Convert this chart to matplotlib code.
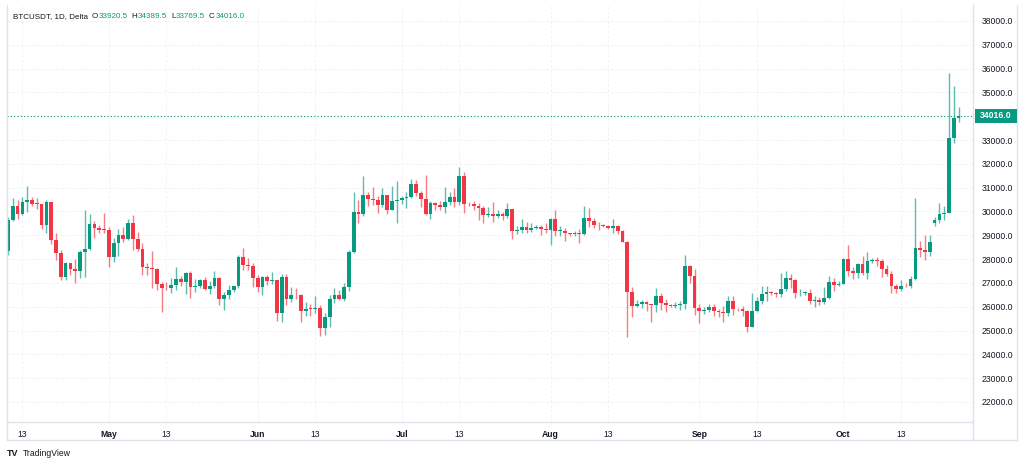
# BTCUSDT daily candles, TradingView style
import numpy as np
import pandas as pd
import matplotlib
matplotlib.use("Agg")
import matplotlib.pyplot as plt
from matplotlib.lines import Line2D
from matplotlib.patches import Rectangle
from matplotlib.ticker import FormatStrFormatter, MultipleLocator

plt.rcParams['font.family'] = ['Liberation Sans', 'DejaVu Sans']

# data (10 Apr - 25 Oct 2023)
symbol_text = "BTCUSDT, 1D, Delta"
start_date = "2023-04-10"

opens = [
    # Apr
    28323, 29653, 30235, 29880, 30390, 30485, 30318, 30316, 29445, 30397, 28822,
    28246, 27262, 27817, 27590, 27514, 28300, 28420, 29472, 29311, 29234,
    # May
    29233, 28068, 28669, 29027, 28838, 29506, 28848, 28430, 27668, 27628, 27599,
    26969, 26796, 26775, 26917, 27162, 27033, 27405, 26821, 26890, 27118, 26754,
    26851, 27225, 26334, 26476, 26719, 26868, 28085, 27745, 27702,
    # Jun
    27219, 26819, 27249, 27069, 27115, 25728, 27230, 26339, 26498, 26477, 25841,
    25925, 25906, 25929, 25124, 25576, 26328, 26511, 26338, 26845, 28308, 29994,
    29890, 30688, 30528, 30462, 30267, 30692, 30077, 30446,
    # Jul
    30472, 30585, 30617, 31156, 30767, 30505, 29895, 30346, 30292, 30171, 30414,
    30620, 30391, 31476, 30334, 30297, 30249, 30145, 29856, 29913, 29800, 29909,
    29801, 30090, 29177, 29228, 29353, 29223, 29315, 29357, 29278,
    # Aug
    29230, 29705, 29186, 29193, 29113, 29072, 29088, 29057, 29708, 29581, 29452,
    29425, 29402, 29290, 29409, 29170, 28701, 26623, 26050, 26100, 26189, 26125,
    26052, 26432, 26164, 26055, 26010, 26089, 26106, 27727, 27299,
    # Sep
    25940, 25800, 25868, 25970, 25813, 25780, 25753, 26240, 25905, 25895, 25832,
    25163, 25840, 26228, 26539, 26608, 26569, 26527, 26763, 27210, 27132, 26568,
    26580, 26580, 26256, 26298, 26217, 26352, 27021, 26907,
    # Oct
    26962, 27993, 27495, 27427, 27778, 27410, 27931, 27956, 27917, 27590, 27391,
    26875, 26756, 26862, 26852, 27154, 28480, 28380, 28300, 29500, 29640, 29890,
    29950, 33070, 33920.5,
]
highs = [
    29770, 30550, 30485, 30595, 31050, 30620, 30550, 30320, 30485, 30410, 29100,
    28375, 27885, 27820, 28000, 28400, 30060, 29890, 29600, 29450, 29950,
    29337, 28880, 29266, 29360, 29677, 29840, 29138, 28664, 27818, 28322, 27638,
    27054, 27055, 27200, 27663, 27279, 27466, 27485, 27183, 27155, 27265, 27087,
    27495, 27235, 26632, 26932, 26890, 28193, 28447, 28045, 27834,
    27350, 27300, 27330, 27455, 27130, 27355, 27395, 26809, 26785, 26530, 26210,
    26100, 26434, 26077, 25750, 26480, 26770, 26700, 26980, 28400, 30800, 30500,
    31470, 30800, 31046, 30662, 31000, 30705, 31060, 31300,
    30660, 30800, 31380, 31325, 30880, 31550, 30450, 30385, 30440, 31045, 30800,
    30980, 31850, 31640, 30390, 30450, 30340, 30245, 30190, 30418, 30050, 29995,
    30350, 30100, 29380, 29690, 29570, 29530, 29413, 29450, 29530,
    29738, 30047, 29410, 29312, 29114, 29175, 29245, 30244, 30130, 29740, 29570,
    29475, 29445, 29670, 29440, 29239, 28780, 26840, 26286, 26296, 26261, 26135,
    26800, 26570, 26315, 26125, 26185, 26237, 28170, 27760, 27580,
    26125, 25970, 26125, 26100, 25890, 26040, 26442, 26432, 25945, 26018, 25880,
    26560, 26400, 26860, 26890, 26670, 26620, 27410, 27490, 27387, 27160, 26745,
    26640, 26738, 26430, 26388, 26837, 27308, 27225, 27090,
    28065, 28590, 27675, 27837, 28125, 28295, 28029, 28100, 27985, 27740, 27480,
    26944, 27130, 26990, 27290, 30550, 28760, 29010, 29000, 29780, 30370, 30240,
    35830, 35280, 34389.5,
]
lows = [
    28170, 29590, 29700, 29860, 29980, 30230, 30120, 29270, 29100, 28650, 27980,
    27140, 27130, 27350, 26990, 27200, 27250, 28380, 28880, 29080, 29100,
    27666, 27870, 28110, 28700, 28800, 28400, 28330, 27336, 27353, 26790, 26702,
    25790, 26692, 26560, 26717, 26863, 26550, 26350, 26630, 26800, 26700, 26538,
    26800, 26080, 25871, 26330, 26600, 26770, 27524, 27560, 26815,
    26605, 26505, 26920, 26950, 25388, 25350, 26087, 26210, 26314, 25370, 25600,
    25630, 25720, 24780, 24800, 25160, 26170, 26280, 26250, 26660, 28260, 29525,
    29800, 30250, 30270, 29920, 30200, 29900, 30050, 29500,
    30320, 30150, 30560, 30630, 30200, 29850, 29700, 30050, 30072, 29950, 30270,
    30200, 30260, 29940, 30250, 30080, 29660, 29500, 29760, 29570, 29720, 29640,
    29730, 28862, 29040, 29100, 29080, 29118, 29250, 29030, 29112,
    28585, 28950, 28960, 28750, 28975, 28990, 28660, 29030, 29350, 29320, 29242,
    29360, 29250, 29110, 29050, 28700, 24750, 25580, 25990, 25967, 25800, 25350,
    25795, 25850, 25777, 25985, 25966, 25880, 25913, 27015, 25656,
    25333, 25710, 25770, 25600, 25570, 25370, 25630, 25650, 25800, 25610, 24950,
    25135, 25760, 26126, 26220, 26475, 26400, 26390, 26670, 26800, 26360, 26470,
    26500, 26120, 25990, 26080, 26110, 26340, 26665, 26887,
    26954, 27300, 27160, 27220, 27350, 27175, 27850, 27690, 27260, 27300, 26560,
    26560, 26665, 26810, 26800, 27113, 28100, 27980, 28150, 29400, 29500, 29640,
    29940, 32890, 33769.5,
]
closes = [
    29653, 30235, 29880, 30390, 30485, 30318, 30316, 29445, 30397, 28822, 28246,
    27262, 27817, 27590, 27514, 28300, 28420, 29472, 29311, 29234, 29233,
    28068, 28669, 29027, 28838, 29506, 28848, 28430, 27668, 27628, 27599, 26969,
    26796, 26775, 26917, 27162, 27033, 27405, 26821, 26890, 27118, 26754, 26851,
    27225, 26334, 26476, 26719, 26868, 28085, 27745, 27702, 27219,
    26819, 27249, 27069, 27115, 25728, 27230, 26339, 26498, 26477, 25841, 25925,
    25906, 25929, 25124, 25576, 26328, 26511, 26338, 26845, 28308, 29994, 29890,
    30688, 30528, 30462, 30267, 30692, 30077, 30446, 30472,
    30585, 30617, 31156, 30767, 30505, 29895, 30346, 30292, 30171, 30414, 30620,
    30391, 31476, 30334, 30297, 30249, 30145, 29856, 29913, 29800, 29909, 29801,
    30090, 29177, 29228, 29353, 29223, 29315, 29357, 29278, 29230,
    29705, 29186, 29193, 29113, 29072, 29088, 29057, 29708, 29581, 29452, 29425,
    29402, 29290, 29409, 29170, 28701, 26623, 26050, 26100, 26189, 26125, 26052,
    26432, 26164, 26055, 26010, 26089, 26106, 27727, 27299, 25940,
    25800, 25868, 25970, 25813, 25780, 25753, 26240, 25905, 25895, 25832, 25163,
    25840, 26228, 26539, 26608, 26569, 26527, 26763, 27210, 27132, 26568, 26580,
    26580, 26256, 26298, 26217, 26352, 27021, 26907, 26962,
    27993, 27495, 27427, 27778, 27410, 27931, 27956, 27917, 27590, 27391, 26875,
    26756, 26862, 26852, 27154, 28480, 28380, 28300, 28720, 29640, 29890, 29950,
    33100, 33920.5, 34016.0,
]

# colours
UP = '#089981'
DOWN = '#F23645'
TEXT = '#131722'
BORDER = '#e0e3eb'
GRID = '#f0f2f6'

o = np.array(opens, dtype=float)
h = np.array(highs, dtype=float)
l = np.array(lows, dtype=float)
c = np.array(closes, dtype=float)
n = len(c)
x = np.arange(n)
dates = pd.date_range(start_date, periods=n, freq='D')

W, H = 1024, 465


def fx(px):
    return px / W


def fy(py):
    return 1 - py / H


fig = plt.figure(figsize=(W / 100, H / 100), dpi=100)
fig.patch.set_facecolor('white')

ax = fig.add_axes([fx(7), fy(422), fx(973) - fx(7), fy(5) - fy(422)])
ax.set_facecolor('white')

# candles
up = c >= o
col = np.where(up, UP, DOWN)
ax.vlines(x, l, h, colors=col, lw=1.0, alpha=0.65, zorder=2)
body_bot = np.minimum(o, c)
body_h = np.maximum(np.abs(c - o), 25)
ax.bar(x, body_h, width=0.78, bottom=body_bot, color=col, lw=0, zorder=3)

ax.set_xlim(-0.21, 201.0)
ax.set_ylim(21160, 38670)

# time axis ticks on 1st and 13th
tick_idx = [i for i, d in enumerate(dates) if d.day in (1, 13)]
tick_lab = [dates[i].strftime('%b') if dates[i].day == 1 else '13'
            for i in tick_idx]
ax.set_xticks(tick_idx)
ax.set_xticklabels(tick_lab)
for t, d in zip(ax.get_xticklabels(), tick_idx):
    if dates[d].day == 1:
        t.set_fontweight('bold')
ax.tick_params(axis='x', length=0, pad=6, labelsize=6.2, labelcolor=TEXT)

# price axis on the right
ax.yaxis.tick_right()
ax.yaxis.set_major_locator(MultipleLocator(1000))
ax.yaxis.set_major_formatter(FormatStrFormatter('%.1f'))
ax.tick_params(axis='y', length=0, pad=6, labelsize=6.2, labelcolor=TEXT)

ax.grid(True, color=GRID, lw=0.7, ls=(0, (3, 2)), zorder=0)
ax.set_axisbelow(True)

for s in ax.spines.values():
    s.set_visible(False)

# last price line and label
last = c[-1]
ax.axhline(last, color=UP, lw=0.8, ls=(0, (1, 2)), zorder=1)
fig.canvas.draw()
ypix = ax.transData.transform((0, last))[1]
box_h = 14
fig.add_artist(Rectangle((fx(975), (ypix - box_h / 2) / H), fx(1017) - fx(975),
                         box_h / H, transform=fig.transFigure,
                         facecolor=UP, edgecolor='none', zorder=5))
fig.text(fx(996), ypix / H, '%.1f' % last, color='white', fontsize=6.2,
         fontweight='bold', ha='center', va='center', zorder=6)

# frame lines
def fline(x0, y0, x1, y1):
    fig.add_artist(Line2D([fx(x0), fx(x1)], [fy(y0), fy(y1)],
                          transform=fig.transFigure, color=BORDER, lw=1))


fline(7, 5, 7, 440)
fline(1017, 5, 1017, 440)
fline(7, 440, 1017, 440)
fline(973, 5, 973, 440)
fline(7, 422, 973, 422)

# header: symbol and OHLC of the last candle
pieces = [(symbol_text, TEXT, 0),
          ('O', TEXT, 4), ('%.1f' % o[-1], UP, 0.5),
          ('H', TEXT, 4), ('%.1f' % h[-1], UP, 0.5),
          ('L', TEXT, 4), ('%.1f' % l[-1], UP, 0.5),
          ('C', TEXT, 4), ('%.1f' % c[-1], UP, 0.5)]
renderer = fig.canvas.get_renderer()
cur = 12.7
for txt, color, gap in pieces:
    cur += gap
    t = fig.text(fx(cur), fy(17), txt, color=color, fontsize=5.8,
                 ha='left', va='center')
    bb = t.get_window_extent(renderer=renderer)
    cur += bb.width

# footer
fig.text(fx(7), fy(453), 'TV', color=TEXT, fontsize=6.5, fontweight='heavy',
         ha='left', va='center')
fig.text(fx(23), fy(453), 'TradingView', color=TEXT, fontsize=6.2,
         ha='left', va='center')

fig.savefig('out.png', dpi=100, facecolor='white')
